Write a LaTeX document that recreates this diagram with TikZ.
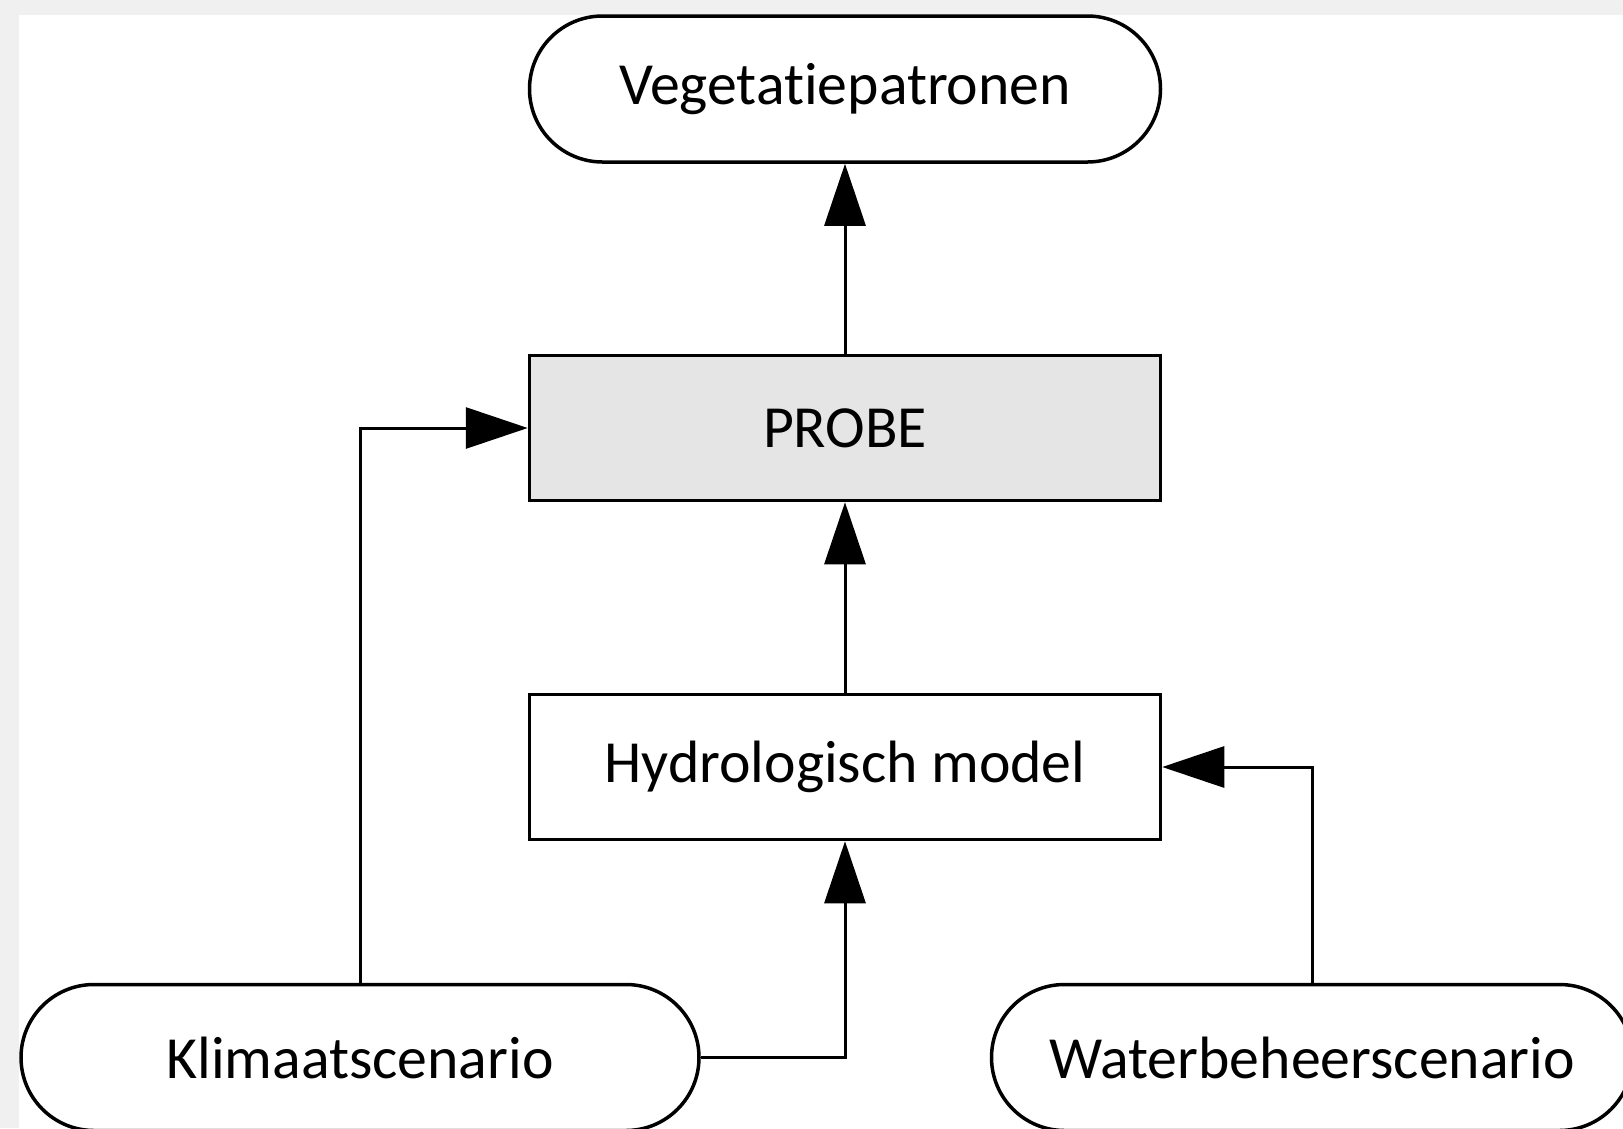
\documentclass[tikz,border=0pt]{standalone}
\usepackage{fontspec}
\setmainfont{Carlito}[Ligatures=NoCommon]
\usetikzlibrary{arrows.meta}
\tikzset{
  term/.style = {
    draw, line width=0.07cm, fill=white,
    rounded corners=1.46cm,
    minimum height=2.92cm
  },
  block/.style = {
    draw, line width=0.07cm, fill=white,
    minimum width=12.62cm, minimum height=2.9cm
  },
  link/.style = {
    line width=0.06cm,
    -{Triangle[length=1.24cm,width=0.82cm]}
  }
}

\begin{document}
\begin{tikzpicture}[font=\fontsize{34}{40}\selectfont]
\pgfmathsetmacro{\W}{32.46}  % total width
\pgfmathsetmacro{\H}{22.56}  % total height
\pgfmathsetmacro{\X}{16.9}   % middle column

% background with grey border
\useasboundingbox (0,0) rectangle (\W,-\H);
\fill[gray!12] (0,0) rectangle (\W,-\H);
\fill[white] (0.38,-0.29) rectangle (\W,-\H);

% nodes
\node[term, minimum width=12.62cm] (veg) at (\X,-1.78) {Vegetatiepatronen};
\node[block, fill=gray!20] (probe) at (\X,-8.56) {PROBE};
\node[block] (hydro) at (\X,-15.34) {Hydrologisch model};
\node[term, minimum width=13.56cm] (klimaat) at (7.2,-21.15) {Klimaatscenario};
\node[term, minimum width=12.82cm] (water) at (26.24,-21.15) {Waterbeheerscenario};

% connectors
\draw[link] (probe) -- (veg);
\draw[link] (hydro) -- (probe);
\draw[link] (klimaat.north) |- (probe.west);
\draw[link] (klimaat.east) -| (hydro.south);
\draw[link] (water.north) |- (hydro.east);
\end{tikzpicture}
\end{document}
